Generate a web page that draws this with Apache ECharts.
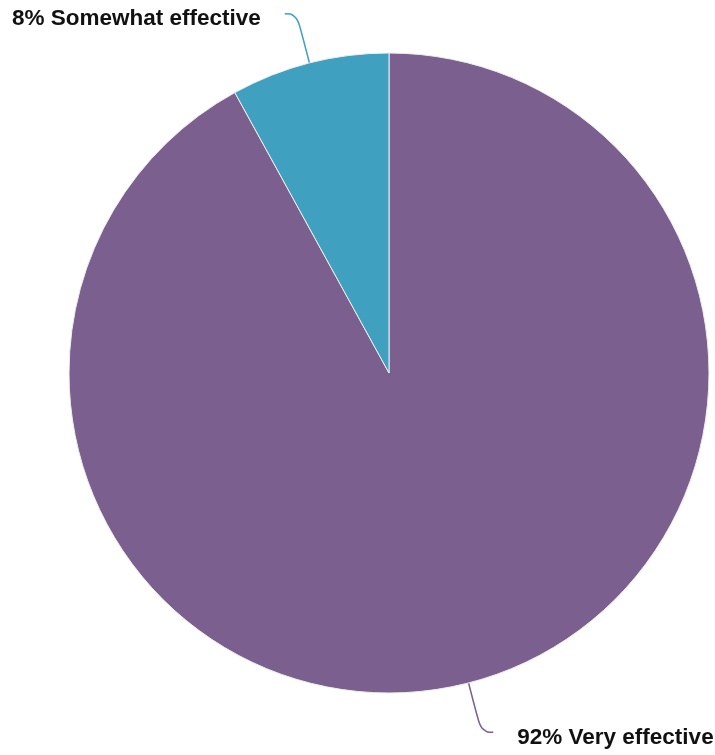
<!DOCTYPE html>
<html>
<head>
<meta charset="utf-8">
<script src="https://cdn.jsdelivr.net/npm/echarts@6/dist/echarts.min.js"></script>
<style>html,body{margin:0;padding:0;background:#fff}#c{width:715px;height:755px}</style>
</head>
<body>
<div id="c"></div>
<script>
const categories = ["Very effective", "Somewhat effective"];
const values = [92, 8];
const colors = ["#7B5F8E", "#3FA0C0"];

const chart = echarts.init(document.getElementById('c'), null, {renderer: 'canvas'});
chart.setOption({
  animation: false,
  series: [{
    type: 'pie',
    center: [389, 373],
    radius: [0, 320],
    startAngle: 90,
    clockwise: true,
    avoidLabelOverlap: false,
    data: categories.map((c, i) => ({
      name: c, value: values[i],
      itemStyle: {color: colors[i]},
      labelLine: {lineStyle: {color: colors[i]}}
    })),
    itemStyle: {borderColor: '#eeeeee', borderWidth: 1},
    label: {
      show: true,
      formatter: p => '{t|' + p.value + '% ' + p.name + '}',
      distanceToLabelLine: 24,
      rich: {
        t: {
          fontFamily: 'Liberation Sans, Arial, sans-serif',
          fontWeight: 'bold',
          fontSize: 22.5,
          color: '#111',
          padding: [10, 0, 0, 0]
        }
      }
    },
    labelLine: {
      show: true,
      length: 51,
      length2: 12,
      smooth: 0.5,
      lineStyle: {width: 1.5}
    }
  }]
});
</script>
</body>
</html>
